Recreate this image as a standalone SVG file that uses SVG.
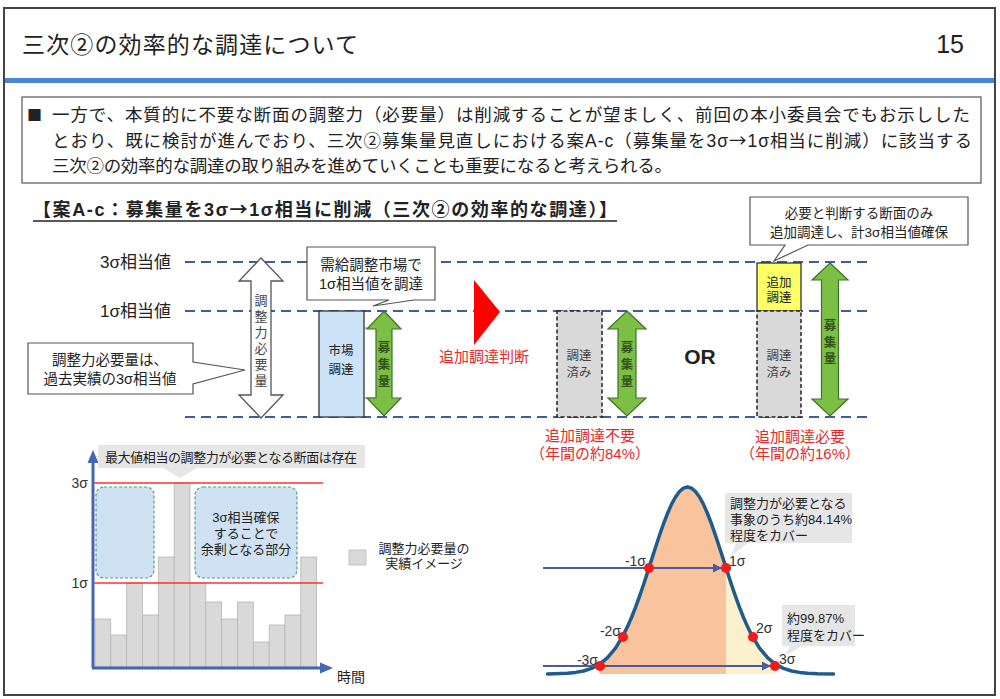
<svg xmlns="http://www.w3.org/2000/svg" width="1000" height="699" viewBox="0 0 1000 699">
<style>
text{font-family:"Liberation Sans","Noto Sans CJK JP",sans-serif;fill:#222}
.cjk{font-family:"Noto Sans CJK JP",sans-serif}
.mid{text-anchor:middle}
.end{text-anchor:end}
.t17{font-size:17px}
.t15{font-size:15px}
.t14{font-size:14px}
.t13{font-size:13px}
.t125{font-size:12.5px}
.red{fill:#e8282d}
.dash{stroke:#3f5c9e;stroke-width:2;stroke-dasharray:10 6;fill:none}
.call{fill:#fff;stroke:#555;stroke-width:1.2}
.gcall{fill:#e6e6e6}
.garr{fill:#7cbf45;stroke:#41702a;stroke-width:1.2}
.warr{fill:#fff;stroke:#555;stroke-width:1.3}
.gtxt{font-size:12.5px;fill:#34531c;font-weight:bold;text-anchor:middle}
.vtxt{font-size:13px;fill:#444;text-anchor:middle}
.done{fill:#d9d9d9;stroke:#222;stroke-width:1.5;stroke-dasharray:4 2.5}
.bar{fill:#d9d9d9;stroke:#b5b5b5;stroke-width:0.8}
.surplus{fill:#cfe2f3;stroke:#55a07c;stroke-width:1.2;stroke-dasharray:3 2}
.sig{stroke:#ff3030;stroke-width:1.3}
.axis{stroke:#4566b0;stroke-width:3}
.harr{stroke:#4a5b9e;stroke-width:2}
.dot{fill:#ee1c1c}
</style>
<defs>
<marker id="ah" viewBox="0 0 10 10" refX="10" refY="5" markerUnits="userSpaceOnUse" markerWidth="10" markerHeight="9" orient="auto">
<path d="M0,0 L10,5 L0,10 Z" fill="#4a5b9e"/>
</marker>
</defs>
<rect x="0" y="0" width="1000" height="699" fill="#fff"/>
<rect x="4" y="8" width="991" height="687" fill="none" stroke="#444" stroke-width="2"/>

<g id="header">
<text x="22" y="53" style="font-size:23px" textLength="336">三次②の効率的な調達について</text>
<text x="964" y="53" class="end" style="font-size:25px;font-family:'Liberation Sans Narrow','Liberation Sans',sans-serif">15</text>
<rect x="5" y="78" width="989" height="5" fill="#4a86d8"/>
</g>

<g id="summary">
<rect x="22" y="97" width="959" height="86" fill="#fff" stroke="#555" stroke-width="1.2"/>
<text x="27" y="121" class="cjk" style="font-size:15px">■</text>
<text x="52" y="121" style="font-size:17.5px" textLength="918">一方で、本質的に不要な断面の調整力（必要量）は削減することが望ましく、前回の本小委員会でもお示しした</text>
<text x="52" y="147" style="font-size:17.5px" textLength="920">とおり、既に検討が進んでおり、三次②募集量見直しにおける案A-c（募集量を3σ<tspan class="cjk">→</tspan>1σ相当に削減）に該当する</text>
<text x="52" y="172" style="font-size:17.5px" textLength="620">三次②の効率的な調達の取り組みを進めていくことも重要になると考えられる。</text>
</g>

<g id="section-title">
<text x="33" y="216" style="font-size:18px;font-weight:bold" textLength="584">【案A-c：募集量を3σ<tspan class="cjk">→</tspan>1σ相当に削減（三次②の効率的な調達）】</text>
<line x1="33" y1="221" x2="617" y2="221" stroke="#222" stroke-width="1.3"/>
</g>

<g id="connectors">
<line class="dash" x1="185" y1="262" x2="871" y2="262"/>
<line class="dash" x1="185" y1="311" x2="871" y2="311"/>
<line class="dash" x1="185" y1="417" x2="871" y2="417"/>
</g>

<g id="level-labels">
<text x="100" y="268" class="t17">3σ相当値</text>
<text x="100" y="317" class="t17">1σ相当値</text>
</g>

<g id="required-arrow">
<path class="warr" d="M261,258 L283,281 L271,281 L271,395 L283,395 L261,418 L239,395 L251,395 L251,281 L239,281 Z"/>
<text class="vtxt" x="261" y="304.5">調</text>
<text class="vtxt" x="261" y="320.5">整</text>
<text class="vtxt" x="261" y="336.5">力</text>
<text class="vtxt" x="261" y="352.5">必</text>
<text class="vtxt" x="261" y="368.5">要</text>
<text class="vtxt" x="261" y="384.5">量</text>
</g>

<g id="callout-required">
<path class="call" d="M28,343 H193 V362 L245,370 L193,384 V394 H28 Z"/>
<text x="110" y="365" class="mid" style="font-size:14.5px">調整力必要量は、</text>
<text x="110" y="384" class="mid" style="font-size:14.5px">過去実績の3σ相当値</text>
</g>

<g id="callout-market">
<path class="call" d="M307,247 H435 V300 H414 L373,306 L389,300 H307 Z"/>
<text x="371" y="270" class="mid" style="font-size:14.5px">需給調整市場で</text>
<text x="371" y="289" class="mid" style="font-size:14.5px">1σ相当値を調達</text>
</g>

<g id="market-box">
<rect x="363" y="328" width="14" height="70" fill="#fff" stroke="#666" stroke-width="0.8"/>
<rect x="319" y="311" width="45" height="106" fill="#cde3f7" stroke="#333" stroke-width="1.3"/>
<text x="341" y="355" class="mid t125">市場</text>
<text x="341" y="374" class="mid t125">調達</text>
</g>

<g id="amount-arrow-1">
<path class="garr" d="M384,311 L401,329 L392,329 L392,398 L401,398 L384,416 L367,398 L376,398 L376,329 L367,329 Z"/>
<text class="gtxt" x="384" y="351.5">募</text>
<text class="gtxt" x="384" y="368.5">集</text>
<text class="gtxt" x="384" y="385.5">量</text>
</g>

<g id="decision">
<polygon points="474,280 500,312 474,345" fill="#ff0000"/>
<text x="484" y="362" class="mid t15 red">追加調達判断</text>
</g>

<g id="case-no-extra">
<rect class="done" x="557" y="311" width="45" height="106"/>
<text x="579" y="360" class="mid t125" style="fill:#444">調達</text>
<text x="579" y="377" class="mid t125" style="fill:#444">済み</text>
<path class="garr" d="M627,311 L646,329 L636,329 L636,398 L646,398 L627,416 L608,398 L618,398 L618,329 L608,329 Z"/>
<text class="gtxt" x="627" y="351.5">募</text>
<text class="gtxt" x="627" y="368.5">集</text>
<text class="gtxt" x="627" y="385.5">量</text>
<text x="590" y="441" class="mid t15 red">追加調達不要</text>
<text x="590" y="459" class="mid t15 red">（年間の約84%）</text>
</g>

<g id="or">
<text x="700" y="364" class="mid" style="font-size:21px;font-weight:bold">OR</text>
</g>

<g id="case-extra">
<rect x="757" y="263" width="44" height="48" fill="#ffff66" stroke="#333" stroke-width="1.3"/>
<text x="779" y="286.5" class="mid t125">追加</text>
<text x="779" y="302" class="mid t125">調達</text>
<rect class="done" x="757" y="311" width="44" height="106"/>
<text x="779" y="360" class="mid t125" style="fill:#444">調達</text>
<text x="779" y="377" class="mid t125" style="fill:#444">済み</text>
<path class="garr" d="M830,263 L848,280 L838.5,280 L838.5,399 L848,399 L830,416 L812,399 L821.5,399 L821.5,280 L812,280 Z"/>
<text class="gtxt" x="830" y="329.5">募</text>
<text class="gtxt" x="830" y="346.5">集</text>
<text class="gtxt" x="830" y="362.5">量</text>
<text x="800" y="442" class="mid t15 red">追加調達必要</text>
<text x="800" y="459" class="mid t15 red">（年間の約16%）</text>
</g>

<g id="callout-extra">
<path class="call" d="M750,197 H968 V245 H808 L774,261 L785,245 H750 Z"/>
<text x="859" y="218" class="mid" style="font-size:13.5px">必要と判断する断面のみ</text>
<text x="859" y="237" class="mid" style="font-size:13.5px">追加調達し、計3σ相当値確保</text>
</g>

<g id="bar-chart">
<rect class="bar" x="95" y="619" width="15.8" height="48"/>
<rect class="bar" x="110.8" y="635" width="15.8" height="32"/>
<rect class="bar" x="126.7" y="583" width="15.8" height="84"/>
<rect class="bar" x="142.5" y="615" width="15.8" height="52"/>
<rect class="bar" x="158.3" y="557" width="15.8" height="110"/>
<rect class="bar" x="174.2" y="483" width="15.8" height="184"/>
<rect class="bar" x="190" y="583" width="15.8" height="84"/>
<rect class="bar" x="205.8" y="602" width="15.8" height="65"/>
<rect class="bar" x="221.7" y="619" width="15.8" height="48"/>
<rect class="bar" x="237.5" y="602" width="15.8" height="65"/>
<rect class="bar" x="253.3" y="642" width="15.8" height="25"/>
<rect class="bar" x="269.2" y="625" width="15.8" height="42"/>
<rect class="bar" x="285" y="615" width="15.8" height="52"/>
<rect class="bar" x="300.8" y="557" width="15.8" height="110"/>
<rect class="surplus" x="96" y="487" width="58" height="91" rx="8"/>
<rect class="surplus" x="195" y="487" width="102" height="91" rx="8"/>
<text x="246" y="522" class="mid t13">3σ相当確保</text>
<text x="246" y="538" class="mid t13">することで</text>
<text x="246" y="554" class="mid t13">余剰となる部分</text>
<line class="sig" x1="93" y1="483" x2="323" y2="483"/>
<line class="sig" x1="93" y1="583" x2="323" y2="583"/>
<line class="axis" x1="93" y1="668" x2="93" y2="460"/>
<line class="axis" x1="92" y1="668" x2="322" y2="668"/>
<polygon points="93,450 87.5,463 98.5,463" fill="#4566b0"/>
<polygon points="333,668 320,662.5 320,673.5" fill="#4566b0"/>
<text x="88" y="488" class="end t14" style="fill:#333">3σ</text>
<text x="88" y="588" class="end t14" style="fill:#333">1σ</text>
<text x="337" y="682" class="t14">時間</text>
<path class="gcall" d="M98,445 H365 V468 H197 L180,478 L163,468 H98 Z"/>
<text x="231" y="462" class="mid t13" textLength="252">最大値相当の調整力が必要となる断面は存在</text>
</g>

<g id="legend">
<rect x="349" y="550" width="17" height="15" fill="#d9d9d9" stroke="#bbb" stroke-width="0.8"/>
<text x="424" y="553" class="mid t13">調整力必要量の</text>
<text x="424" y="568" class="mid t13">実績イメージ</text>
</g>

<g id="normal-distribution">
<path d="M599.5,674 L599.5,664.3 L607.5,657.7 L615.5,648.1 L623.5,634.8 L627.5,626.6 L631.5,617.5 L635.5,607.4 L639.5,596.4 L643.5,584.7 L647.5,572.4 L651.5,559.9 L655.5,547.5 L659.5,535.3 L663.5,523.9 L667.5,513.5 L671.5,504.4 L675.5,497 L679.5,491.5 L683.5,488.1 L687.5,487 L691.5,488.1 L695.5,491.5 L699.5,497 L703.5,504.4 L707.5,513.5 L711.5,523.9 L715.5,535.3 L719.5,547.5 L723.5,559.9 L726,567.8 L726,674 Z" fill="#f9c39e"/>
<path d="M726,567.8 L727.5,572.4 L731.5,584.7 L735.5,596.4 L739.5,607.4 L743.5,617.5 L747.5,626.6 L751.5,634.8 L759.5,648.1 L767.5,657.7 L775.5,664.3 L775.5,674 L726,674 Z" fill="#fdf0cc"/>
<path d="M547.5,674 L567.5,673.2 L575.5,672.4 L583.5,671 L591.5,668.4 L599.5,664.3 L607.5,657.7 L615.5,648.1 L623.5,634.8 L627.5,626.6 L631.5,617.5 L635.5,607.4 L639.5,596.4 L643.5,584.7 L647.5,572.4 L651.5,559.9 L655.5,547.5 L659.5,535.3 L663.5,523.9 L667.5,513.5 L671.5,504.4 L675.5,497 L679.5,491.5 L683.5,488.1 L687.5,487 L691.5,488.1 L695.5,491.5 L699.5,497 L703.5,504.4 L707.5,513.5 L711.5,523.9 L715.5,535.3 L719.5,547.5 L723.5,559.9 L727.5,572.4 L731.5,584.7 L735.5,596.4 L739.5,607.4 L743.5,617.5 L747.5,626.6 L751.5,634.8 L759.5,648.1 L767.5,657.7 L775.5,664.3 L783.5,668.4 L791.5,671 L799.5,672.4 L807.5,673.2 L817.5,673.7 L833.5,674" fill="none" stroke="#1f5c8c" stroke-width="3.5" stroke-linejoin="round" stroke-linecap="round"/>
<line class="harr" x1="543" y1="568" x2="722" y2="568" marker-end="url(#ah)"/>
<line class="harr" x1="543" y1="666" x2="771" y2="666" marker-end="url(#ah)"/>
<circle class="dot" cx="649" cy="568" r="5"/>
<circle class="dot" cx="726" cy="568" r="5"/>
<circle class="dot" cx="623" cy="637" r="5"/>
<circle class="dot" cx="753" cy="637" r="5"/>
<circle class="dot" cx="600" cy="666" r="5"/>
<circle class="dot" cx="775" cy="666" r="5"/>
<text x="646" y="566" class="end t14" style="fill:#333">-1σ</text>
<text x="729" y="566" class="t14" style="fill:#333">1σ</text>
<text x="621" y="636" class="end t14" style="fill:#333">-2σ</text>
<text x="756" y="633" class="t14" style="fill:#333">2σ</text>
<text x="598" y="665" class="end t14" style="fill:#333">-3σ</text>
<text x="779" y="664" class="t14" style="fill:#333">3σ</text>
<path class="gcall" d="M725,493 H852 V543 H748 L731,556 L736,543 H725 Z"/>
<text x="730" y="508" class="t13">調整力が必要となる</text>
<text x="730" y="524" class="t13">事象のうち約84.14%</text>
<text x="730" y="540" class="t13">程度をカバー</text>
<path class="gcall" d="M782,605 H855 V646 H802 L785,656 L790,646 H782 Z"/>
<text x="787" y="623" class="t13">約99.87%</text>
<text x="787" y="640" class="t13">程度をカバー</text>
</g>
</svg>
